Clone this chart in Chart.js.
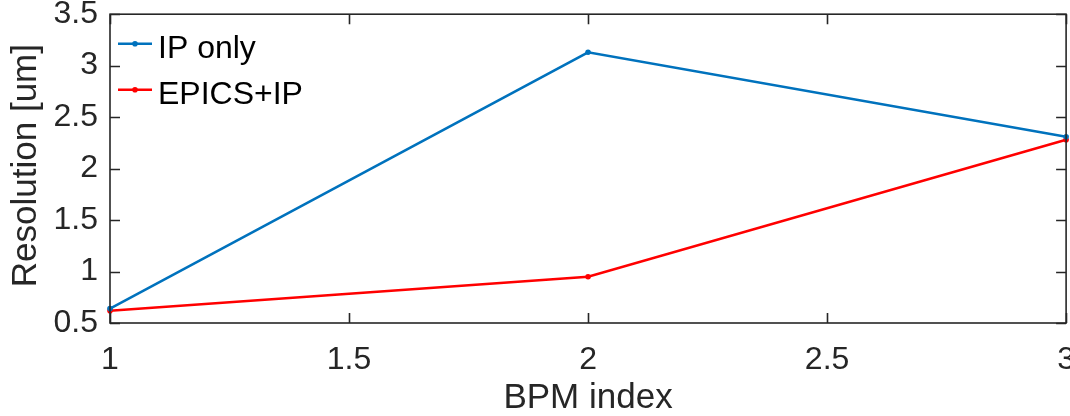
<!DOCTYPE html>
<html>
<head>
<meta charset="utf-8">
<title>BPM resolution</title>
<script src="https://cdn.jsdelivr.net/npm/chart.js@4"></script>
<style>
    html, body { margin: 0; padding: 0; background: #fff; overflow: hidden; }
    body { width: 1070px; height: 416px; }
    #wrap { width: 1093px; height: 433px; margin-top: -17px; }
</style>
</head>
<body>
<div id="wrap"><canvas id="resChart" width="1093" height="433"></canvas></div>
<script>
// ---- data ----
const bpmIndex = [1, 2, 3];
const ipOnly = [0.64, 3.13, 2.31];
const epicsIp = [0.62, 0.95, 2.28];
const seriesNames = ['IP only', 'EPICS+IP'];
const seriesColors = ['#0072BD', '#FF0000'];
const yTitle = 'Resolution [um]';

const FONT = "'Liberation Sans', Arial, Helvetica, sans-serif";
const INK = '#262626';

function toPoints(ys) {
    return bpmIndex.map((x, i) => ({ x: x, y: ys[i] }));
}

// MATLAB-style box with inward ticks on all four sides
const boxPlugin = {
    id: 'boxAxes',
    afterDatasetsDraw(chart) {
        const { ctx, chartArea: a, scales } = chart;
        const len = 10;
        ctx.save();
        ctx.strokeStyle = INK;
        ctx.lineWidth = 1.6;
        ctx.beginPath();
        scales.x.ticks.forEach(t => {
            const px = Math.round(scales.x.getPixelForValue(t.value)) + 0.5;
            ctx.moveTo(px, a.bottom); ctx.lineTo(px, a.bottom - len);
            ctx.moveTo(px, a.top); ctx.lineTo(px, a.top + len);
        });
        scales.y.ticks.forEach(t => {
            const py = Math.round(scales.y.getPixelForValue(t.value)) + 0.5;
            ctx.moveTo(a.left, py); ctx.lineTo(a.left + len, py);
            ctx.moveTo(a.right, py); ctx.lineTo(a.right - len, py);
        });
        ctx.stroke();
        ctx.strokeRect(a.left, a.top, a.right - a.left, a.bottom - a.top);
        ctx.restore();
    }
};

// rotated y label, baseline placed close to the tick labels
const yTitlePlugin = {
    id: 'yTitle',
    afterDraw(chart) {
        const { ctx, chartArea: a } = chart;
        ctx.save();
        ctx.translate(36, (a.top + a.bottom) / 2 - 3);
        ctx.rotate(-Math.PI / 2);
        ctx.font = '35px ' + FONT;
        ctx.fillStyle = INK;
        ctx.textAlign = 'center';
        ctx.textBaseline = 'alphabetic';
        ctx.fillText(yTitle, 0, 0);
        ctx.restore();
    }
};

// legend drawn inside the axes, top-left, no frame
const legendPlugin = {
    id: 'innerLegend',
    afterDraw(chart) {
        const { ctx, chartArea: a } = chart;
        ctx.save();
        ctx.font = '32px ' + FONT;
        ctx.textBaseline = 'alphabetic';
        chart.data.datasets.forEach((ds, i) => {
            const ly = a.top + 29.5 + i * 46;
            ctx.strokeStyle = ds.borderColor;
            ctx.lineWidth = 2.5;
            ctx.beginPath();
            ctx.moveTo(a.left + 8, ly);
            ctx.lineTo(a.left + 42, ly);
            ctx.stroke();
            ctx.fillStyle = ds.borderColor;
            ctx.beginPath();
            ctx.arc(a.left + 25, ly, 2.8, 0, Math.PI * 2);
            ctx.fill();
            ctx.fillStyle = '#000';
            ctx.fillText(ds.label, a.left + 48, ly + 14.5);
        });
        ctx.restore();
    }
};

new Chart(document.getElementById('resChart'), {
    type: 'line',
    data: {
        datasets: [
            {
                label: seriesNames[0],
                data: toPoints(ipOnly),
                borderColor: seriesColors[0],
                backgroundColor: seriesColors[0],
                borderWidth: 2.5,
                pointRadius: 2.8,
                pointBorderWidth: 0,
                tension: 0,
                clip: 6
            },
            {
                label: seriesNames[1],
                data: toPoints(epicsIp),
                borderColor: seriesColors[1],
                backgroundColor: seriesColors[1],
                borderWidth: 2.5,
                pointRadius: 2.8,
                pointBorderWidth: 0,
                tension: 0,
                clip: 6
            }
        ]
    },
    options: {
        responsive: false,
        animation: false,
        layout: { padding: { top: 0, right: 0, left: 0, bottom: 0 } },
        plugins: {
            legend: { display: false },
            tooltip: { enabled: false }
        },
        scales: {
            x: {
                type: 'linear',
                min: 1,
                max: 3,
                grid: { display: false, drawTicks: false },
                border: { display: false },
                ticks: {
                    stepSize: 0.5,
                    padding: 18,
                    maxRotation: 0,
                    color: INK,
                    font: { family: FONT, size: 32 },
                    callback: v => String(v)
                },
                title: {
                    display: true,
                    text: 'BPM index',
                    color: INK,
                    padding: { top: 0, bottom: 0 },
                    font: { family: FONT, size: 35, lineHeight: 1.0 }
                },
                afterFit(scale) { scale.height = 93; }
            },
            y: {
                min: 0.5,
                max: 3.5,
                grid: { display: false, drawTicks: false },
                border: { display: false },
                ticks: {
                    stepSize: 0.5,
                    padding: 12,
                    color: INK,
                    font: { family: FONT, size: 32 },
                    callback: v => String(v)
                },
                title: { display: false },
                afterFit(scale) { scale.width = 110; }
            }
        }
    },
    plugins: [boxPlugin, yTitlePlugin, legendPlugin]
});
</script>
</body>
</html>
